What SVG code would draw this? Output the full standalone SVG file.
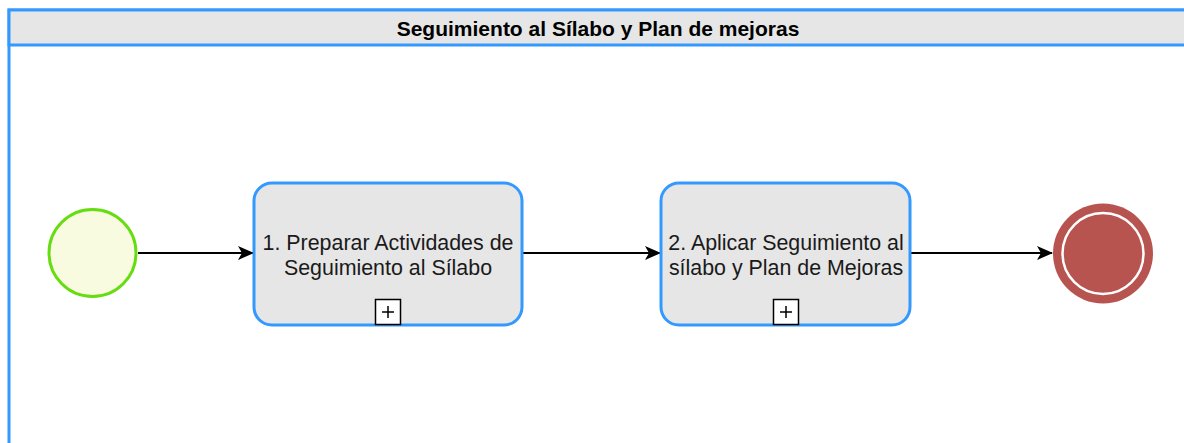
<svg xmlns="http://www.w3.org/2000/svg" width="1184" height="443" viewBox="0 0 1184 443">
<defs>
<style>
.pool{fill:#ffffff;stroke:#3399ff;stroke-width:3}
.hdr{fill:#e6e6e6;stroke:#3399ff;stroke-width:3}
.title{font-family:"Liberation Sans",Arial,sans-serif;font-size:21px;font-weight:bold;fill:#000;text-anchor:middle}
.task{fill:#e6e6e6;stroke:#3399ff;stroke-width:3}
.lbl{font-family:"Liberation Sans",Arial,sans-serif;font-size:21.4px;fill:#1a1a1a;text-anchor:middle}
.mk{fill:#ffffff;stroke:#000;stroke-width:1.5}
.edge{fill:none;stroke:#000;stroke-width:2;marker-end:url(#arr)}
</style>
<marker id="arr" viewBox="0 0 16 14" refX="15" refY="7" markerWidth="16" markerHeight="14" markerUnits="userSpaceOnUse" orient="auto">
<path d="M0,0 L16,7 L0,14 L4,7 Z" fill="#000"/>
</marker>
</defs>
<g id="pool">
<rect class="pool" x="9" y="10" width="1190" height="450"/>
<rect class="hdr" x="9" y="10" width="1190" height="35"/>
<text class="title" x="598" y="36">Seguimiento al Sílabo y Plan de mejoras</text>
</g>
<g id="connectors">
<path class="edge" d="M138,253 L253,253"/>
<path class="edge" d="M522,253 L660,253"/>
<path class="edge" d="M910,253 L1052,253"/>
</g>
<g id="start">
<circle cx="92.5" cy="253" r="43.5" fill="#f8fbe0" stroke="#66dd11" stroke-width="3"/>
</g>
<g id="task1">
<rect class="task" x="254" y="183" width="268" height="142" rx="18"/>
<text class="lbl" x="388" y="250">1. Preparar Actividades de</text>
<text class="lbl" x="388" y="274.5">Seguimiento al Sílabo</text>
<rect class="mk" x="375.5" y="299.5" width="25" height="25"/>
<path d="M382,312 H394 M388,306 V318" stroke="#000" stroke-width="1.5"/>
</g>
<g id="task2">
<rect class="task" x="661" y="183" width="249" height="142" rx="18"/>
<text class="lbl" x="786" y="250">2. Aplicar Seguimiento al</text>
<text class="lbl" x="786" y="274.5">sílabo y Plan de Mejoras</text>
<rect class="mk" x="773.5" y="299.5" width="25" height="25"/>
<path d="M780,312 H792 M786,306 V318" stroke="#000" stroke-width="1.5"/>
</g>
<g id="end">
<circle cx="1103" cy="253.5" r="50" fill="#b85450"/>
<circle cx="1103" cy="253.5" r="40.5" fill="none" stroke="#ffffff" stroke-width="2.5"/>
</g>
</svg>
